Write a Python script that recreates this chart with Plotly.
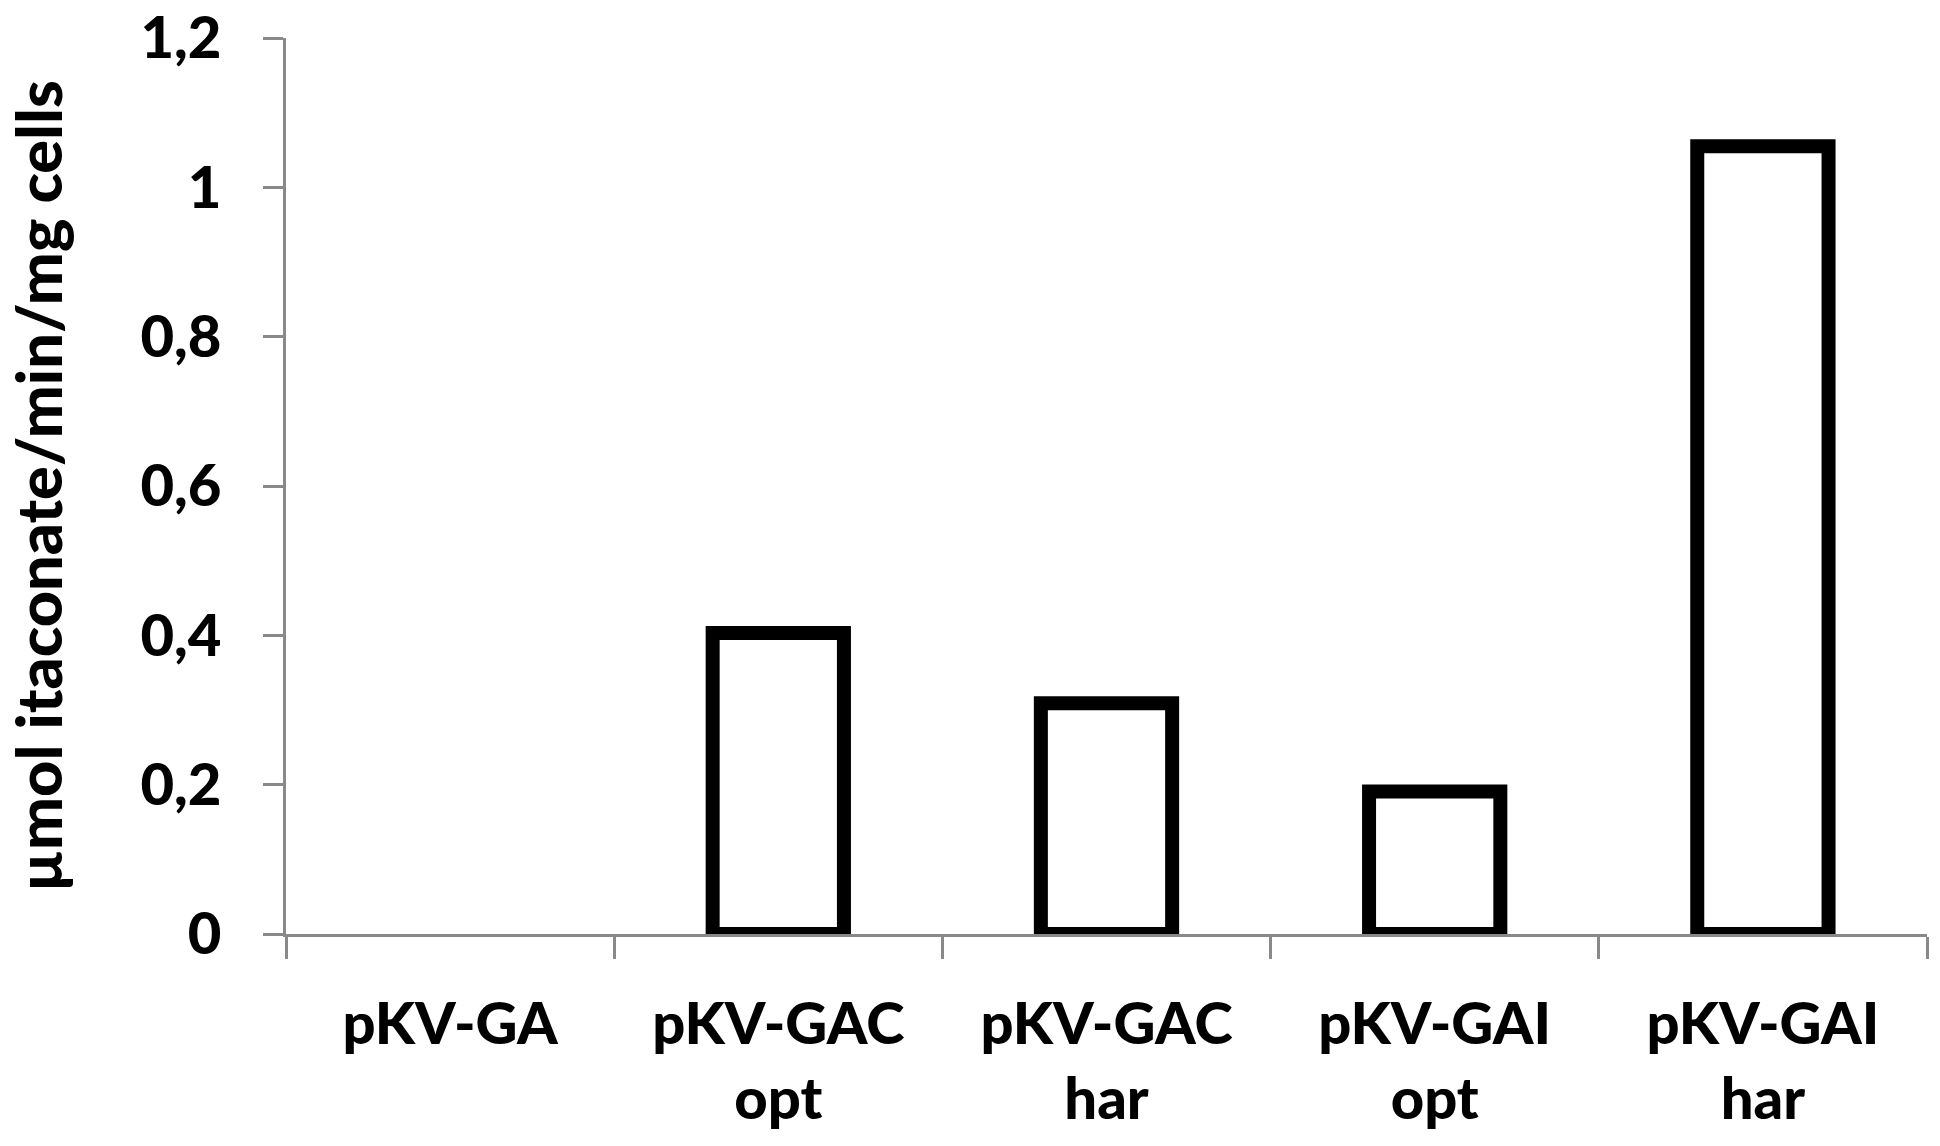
import plotly.graph_objects as go

categories = ["pKV-GA", "pKV-GAC<br>opt", "pKV-GAC<br>har", "pKV-GAI<br>opt", "pKV-GAI<br>har"]
values = [0.0, 0.403, 0.309, 0.191, 1.055]
y_tickvals = [0, 0.2, 0.4, 0.6, 0.8, 1.0, 1.2]
y_ticktext = ["0", "0,2", "0,4", "0,6", "0,8", "1", "1,2"]
y_title = "µmol itaconate/min/mg cells"

FONT = "Lato"
WEIGHT = 900
AXIS_GRAY = "#898989"

# hide the outline of zero-height bars (nothing is drawn there in the original)
outline_widths = [14 if v > 0 else 0 for v in values]

fig = go.Figure(
    go.Bar(
        x=categories,
        y=values,
        marker=dict(color="white", line=dict(color="black", width=outline_widths)),
        width=0.4,
    )
)

fig.update_layout(
    width=1940,
    height=1146,
    margin=dict(l=286, r=13, t=38, b=212, autoexpand=False),
    paper_bgcolor="white",
    plot_bgcolor="white",
    showlegend=False,
    font=dict(family=FONT, color="black", size=58, weight=WEIGHT),
)

fig.update_xaxes(
    type="category",
    range=[-0.5, 4.5],
    automargin=False,
    showline=True,
    linecolor=AXIS_GRAY,
    linewidth=3,
    ticks="outside",
    tickson="boundaries",
    ticklen=22,
    tickwidth=3,
    tickcolor=AXIS_GRAY,
    showgrid=False,
    tickfont=dict(family=FONT, size=58, color="black", weight=WEIGHT),
    ticklabelstandoff=37,
)

fig.update_yaxes(
    range=[0, 1.2001],
    automargin=False,
    tickvals=y_tickvals,
    ticktext=y_ticktext,
    showline=True,
    linecolor=AXIS_GRAY,
    linewidth=3,
    ticks="outside",
    ticklen=20,
    tickwidth=3,
    tickcolor=AXIS_GRAY,
    showgrid=False,
    zeroline=False,
    ticklabeloverflow="allow",
    tickfont=dict(family=FONT, size=58, color="black", weight=WEIGHT),
    ticklabelstandoff=30,
    title=dict(text=y_title, font=dict(family=FONT, size=63, color="black", weight=WEIGHT), standoff=64),
)

fig.write_html(
    "out.html",
    config={"displayModeBar": False},
    post_script="document.body.style.margin='0px';",
)
